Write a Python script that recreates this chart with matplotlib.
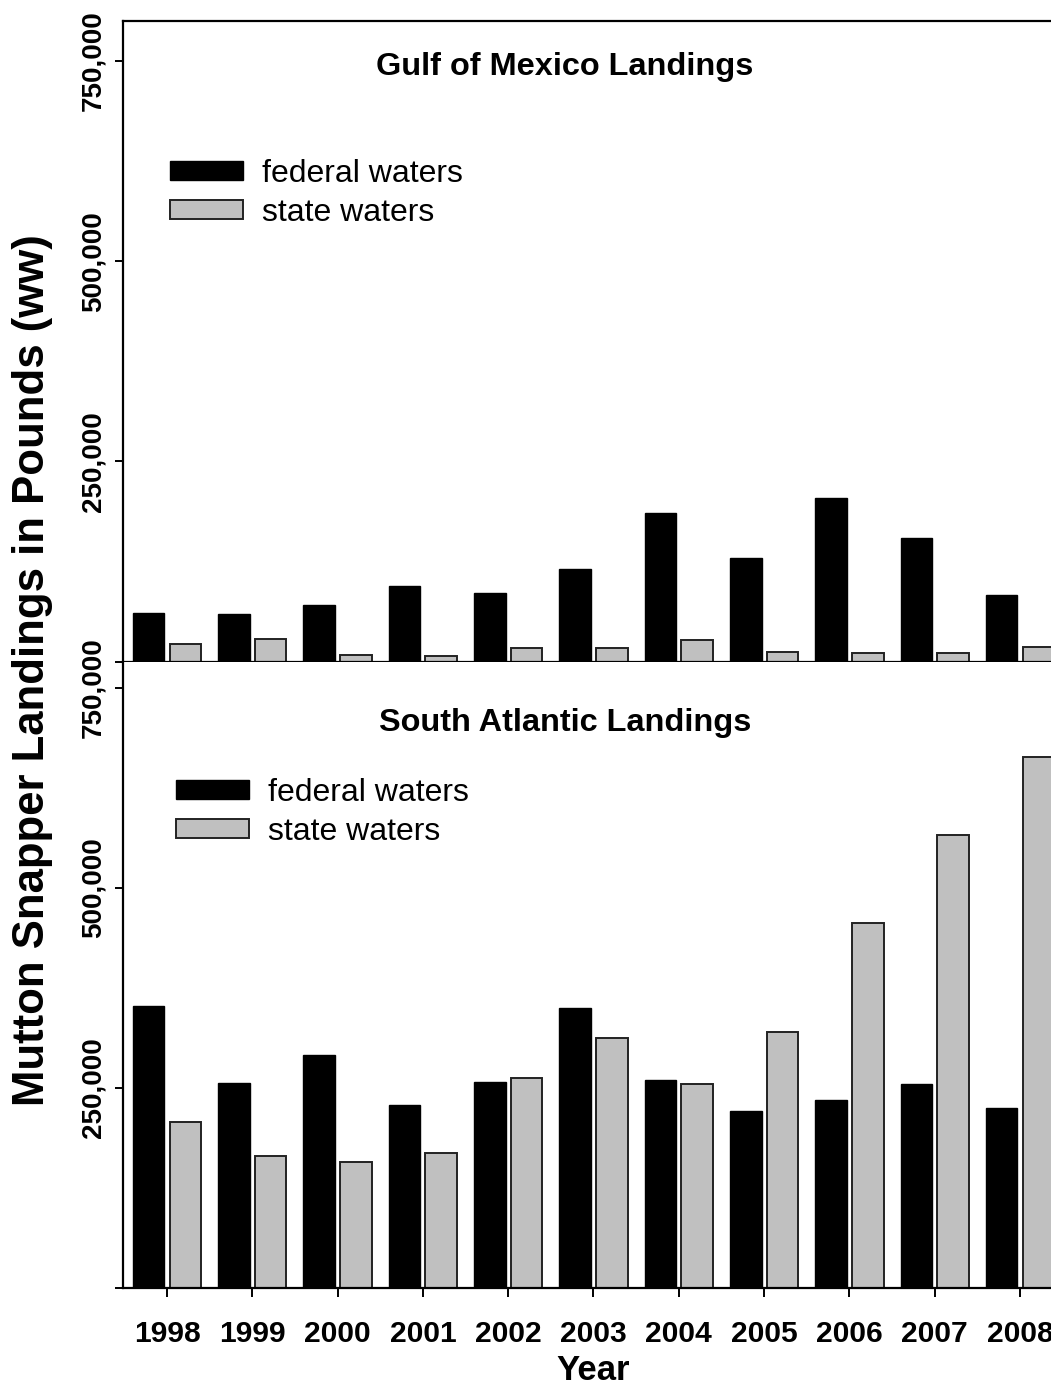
import numpy as np
import matplotlib
matplotlib.use("Agg")
import matplotlib.pyplot as plt
from matplotlib.ticker import FixedLocator

plt.rcParams["font.family"] = ["Liberation Sans", "DejaVu Sans"]

# ----------- DATA -----------
years = ["1998", "1999", "2000", "2001", "2002", "2003", "2004", "2005", "2006", "2007", "2008"]

gulf_federal = [60000, 58800, 70800, 94600, 85000, 115400, 185400, 129600, 203800, 154600, 82500]
gulf_state = [21300, 28300, 8300, 6700, 17000, 16300, 26700, 11700, 10800, 10000, 17600]

satl_federal = [352000, 256000, 291000, 228000, 257000, 350000, 259000, 221000, 234000, 254000, 225000]
satl_state = [207000, 165000, 157000, 168000, 262000, 312000, 254000, 319000, 456000, 566000, 663500]

y_ticks = [0, 250000, 500000, 750000]
y_tick_labels = ["", "250,000", "500,000", "750,000"]

# ----------- FIGURE -----------
W, H = 1051, 1387
fig = plt.figure(figsize=(W / 100, H / 100), dpi=100)

left = 123 / W
width = (1064 - 123) / W
ax_top = fig.add_axes([left, (H - 661.5) / H, width, 640.5 / H])
ax_bot = fig.add_axes([left, (H - 1287.5) / H, width, 625.5 / H])

x = np.arange(len(years))
bar_w = 0.37
offset = 0.215


def draw_panel(ax, federal, state, ymax, title, title_y, leg_xy):
    b1 = ax.bar(x - offset, federal, bar_w, color="black", edgecolor="black",
                linewidth=1.0, label="federal waters")
    b2 = ax.bar(x + offset, state, bar_w, color="#c0c0c0", edgecolor="#222222",
                linewidth=1.4, label="state waters")
    ax.set_xlim(-0.516, len(years) - 1 + 0.516)
    ax.set_ylim(0, ymax)

    ax.yaxis.set_major_locator(FixedLocator(y_ticks))
    ax.set_yticklabels(y_tick_labels, rotation=90, va="center",
                       fontsize=20, fontweight="bold")
    ax.set_xticks(x)
    ax.tick_params(axis="both", direction="out", length=6, width=1.4)
    ax.tick_params(axis="y", pad=6)
    ax.tick_params(axis="x", length=6.5, pad=17)

    for s in ax.spines.values():
        s.set_linewidth(1.6)
    ax.spines["right"].set_visible(False)

    ax.text(0.4697, title_y, title, transform=ax.transAxes, ha="center", va="center",
            fontsize=23.4, fontweight="bold")

    ax.legend(handles=[b1, b2], loc="upper left", bbox_to_anchor=leg_xy,
              frameon=False, fontsize=23, borderpad=0, borderaxespad=0,
              handlelength=2.28, handleheight=0.56, handletextpad=0.59,
              labelspacing=0.28)


# Gulf of Mexico (top)
draw_panel(ax_top, gulf_federal, gulf_state, 800000,
           "Gulf of Mexico Landings", 0.928, (0.0499, 0.7845))
ax_top.set_xticklabels([])

# South Atlantic (bottom)
draw_panel(ax_bot, satl_federal, satl_state, 781875,
           "South Atlantic Landings", 0.902, (0.0563, 0.8146))
ax_bot.spines["top"].set_visible(False)
ax_bot.set_xticklabels(years, fontsize=21.6, fontweight="bold")
ax_bot.set_xlabel("Year", fontsize=25, fontweight="bold", labelpad=4)

fig.text(33 / W, (H - 670) / H, "Mutton Snapper Landings in Pounds (ww)",
         rotation=90, ha="center", va="center", fontsize=31.5, fontweight="bold")

fig.savefig("out.png", dpi=100, facecolor="white")
